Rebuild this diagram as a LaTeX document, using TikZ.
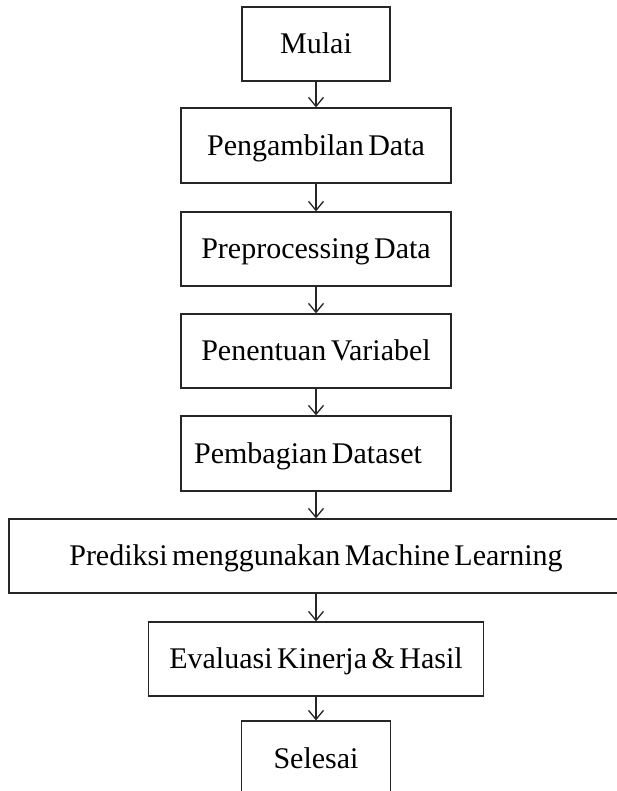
\documentclass[tikz,border=0pt]{standalone}
\usepackage{fontspec}
\setmainfont{Liberation Serif}
\usetikzlibrary{arrows.meta}
% box text: 30pt serif with narrow word spaces
\newcommand\stepfont{\fontsize{30}{34}\selectfont\spaceskip=4.5pt plus 1pt minus 1pt\relax}
\tikzset{
  stepbox/.style={draw=black!85, line width=1.3pt, inner sep=0pt,
    text height=19.9pt, text depth=0pt, font=\stepfont},
  flow/.style={draw=black!85, line width=1.3pt,
    -{Straight Barb[length=9pt,width=15pt]}}
}
\begin{document}
\begin{tikzpicture}[x=1pt,y=-1pt]
  \useasboundingbox (0,0) rectangle (617,791);
  \node[stepbox, minimum width=148pt, minimum height=74pt] (mulai) at (316,44) {Mulai};
  \node[stepbox, minimum width=270pt, minimum height=75pt] (ambil) at (316,145.5) {Pengambilan Data};
  \node[stepbox, minimum width=270pt, minimum height=74pt] (prep) at (316,249) {Preprocessing Data};
  \node[stepbox, minimum width=270pt, minimum height=74pt] (var) at (316,351) {Penentuan Variabel};
  \node[stepbox, minimum width=270pt, minimum height=75pt] (bagi) at (316,453.5) {Pembagian Dataset\kern16pt};
  \node[stepbox, minimum width=614pt, minimum height=74pt] (pred) at (316,556) {Prediksi menggunakan Machine Learning};
  \node[stepbox, minimum width=335pt, minimum height=74pt] (eval) at (316,659) {Evaluasi Kinerja \& Hasil};
  \node[stepbox, minimum width=149pt, minimum height=76pt] (selesai) at (316,759) {Selesai};
  \draw[flow] (mulai) -- (ambil);
  \draw[flow] (ambil) -- (prep);
  \draw[flow] (prep) -- (var);
  \draw[flow] (var) -- (bagi);
  \draw[flow] (bagi) -- (pred);
  \draw[flow] (pred) -- (eval);
  \draw[flow] (eval) -- (selesai);
\end{tikzpicture}
\end{document}
